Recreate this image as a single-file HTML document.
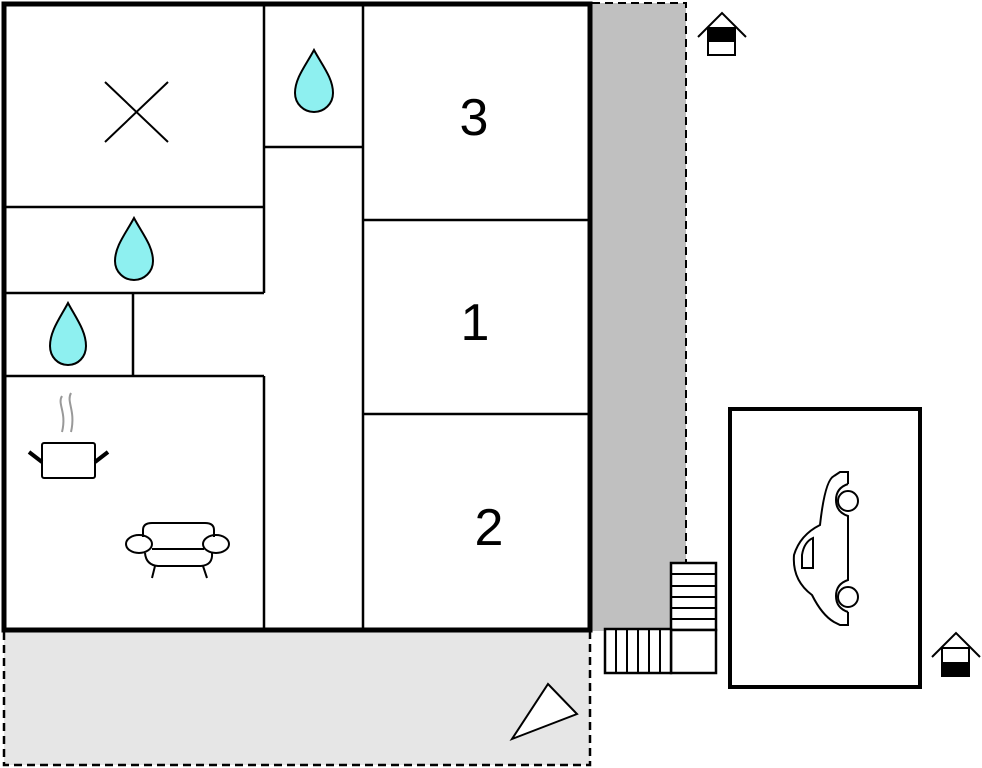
<!DOCTYPE html>
<html><head><style>body{margin:0;background:#fff}svg{display:block}</style></head><body>
<svg width="982" height="768" viewBox="0 0 982 768" xmlns="http://www.w3.org/2000/svg">
<rect x="592" y="3" width="94" height="628" fill="#c0c0c0"/>
<path d="M592 3H686V563" fill="none" stroke="#000" stroke-width="2" stroke-dasharray="8,5"/>
<rect x="4" y="632" width="586" height="133" fill="#e6e6e6"/>
<path d="M4 632V765H590V632" fill="none" stroke="#000" stroke-width="2.5" stroke-dasharray="8,5"/>
<g stroke="#000" stroke-width="2.5" fill="none">
<path d="M4 207H264M4 293H264M133 293V376M4 376H264M264 4V293M264 376V630M264 147H363M363 4V630M363 220H590M363 414H590"/>
</g>
<rect x="4" y="4" width="586" height="626" fill="none" stroke="#000" stroke-width="5"/>
<path d="M105 82L168 142M168 82L105 142" stroke="#000" stroke-width="2"/>
<g fill="#8ef0f0" stroke="#000" stroke-width="2">
<path d="M314 50C306 65 295 78 295 93C295 104 304 112 314 112C324 112 333 104 333 93C333 78 322 65 314 50Z"/>
<path d="M134 218C126 233 115 246 115 261C115 272 124 280 134 280C144 280 153 272 153 261C153 246 142 233 134 218Z"/>
<path d="M68 303C60 318 50 331 50 346C50 357 58 365 68 365C78 365 86 357 86 346C86 331 76 318 68 303Z"/>
</g>
<g font-family="Liberation Sans, sans-serif" font-size="52" text-anchor="middle" fill="#000">
<text x="474" y="135">3</text><text x="475" y="340">1</text><text x="489" y="545">2</text>
</g>
<g fill="none" stroke="#000" stroke-width="2">
<path d="M62 396C57 404 67 412 62 432M71 393C66 402 76 410 71 432" stroke="#999"/>
<rect x="42" y="443" width="53" height="35" rx="2"/>
<path d="M29 452L42 462M108 452L95 462" stroke-width="4"/>
<path d="M143 537V530Q143 523 152 523H205Q214 523 214 530V537"/>
<ellipse cx="139" cy="544" rx="13" ry="9"/><ellipse cx="216" cy="544" rx="13" ry="9"/>
<path d="M152 549H204M145 553Q146 565 158 566H201Q213 565 212 553M155 566L152 578M203 566L207 578"/>
</g>
<g stroke="#000" stroke-width="2.5" fill="#fff">
<rect x="671" y="563" width="45" height="67"/><rect x="671" y="630" width="45" height="43"/>
<rect x="605" y="629" width="66" height="44"/>
</g>
<path d="M671 574H716M671 586H716M671 597H716M671 608H716M671 619H716M616 629V673M627 629V673M638 629V673M649 629V673M660 629V673" stroke="#000" stroke-width="2"/>
<path d="M512 739L577 714L548 684Z" fill="#fff" stroke="#000" stroke-width="2"/>
<rect x="730" y="409" width="190" height="278" fill="none" stroke="#000" stroke-width="4"/>
<g fill="none" stroke="#000" stroke-width="2">
<path d="M834 476L840 472H848V484M834 476Q825 480 820 525Q800 535 794 555Q792 580 812 595Q822 615 834 622L840 625H848V612M848 484Q836 488 836 500Q836 512 848 516V580Q836 584 836 596Q836 608 848 612"/>
<circle cx="848" cy="501" r="10"/><circle cx="848" cy="597" r="10"/>
<path d="M802 568V555Q804 542 813 538V568Z"/>
</g>
<g stroke="#000" stroke-width="2">
<path d="M698 37L722 13L746 37" fill="none"/>
<rect x="708" y="28" width="27" height="27" fill="#fff"/><rect x="708" y="28" width="27" height="13" fill="#000"/>
<path d="M932 657L956 633L980 657" fill="none"/>
<rect x="942" y="648" width="27" height="28" fill="#fff"/><rect x="942" y="663" width="27" height="13" fill="#000"/>
</g>
</svg>
</body></html>
